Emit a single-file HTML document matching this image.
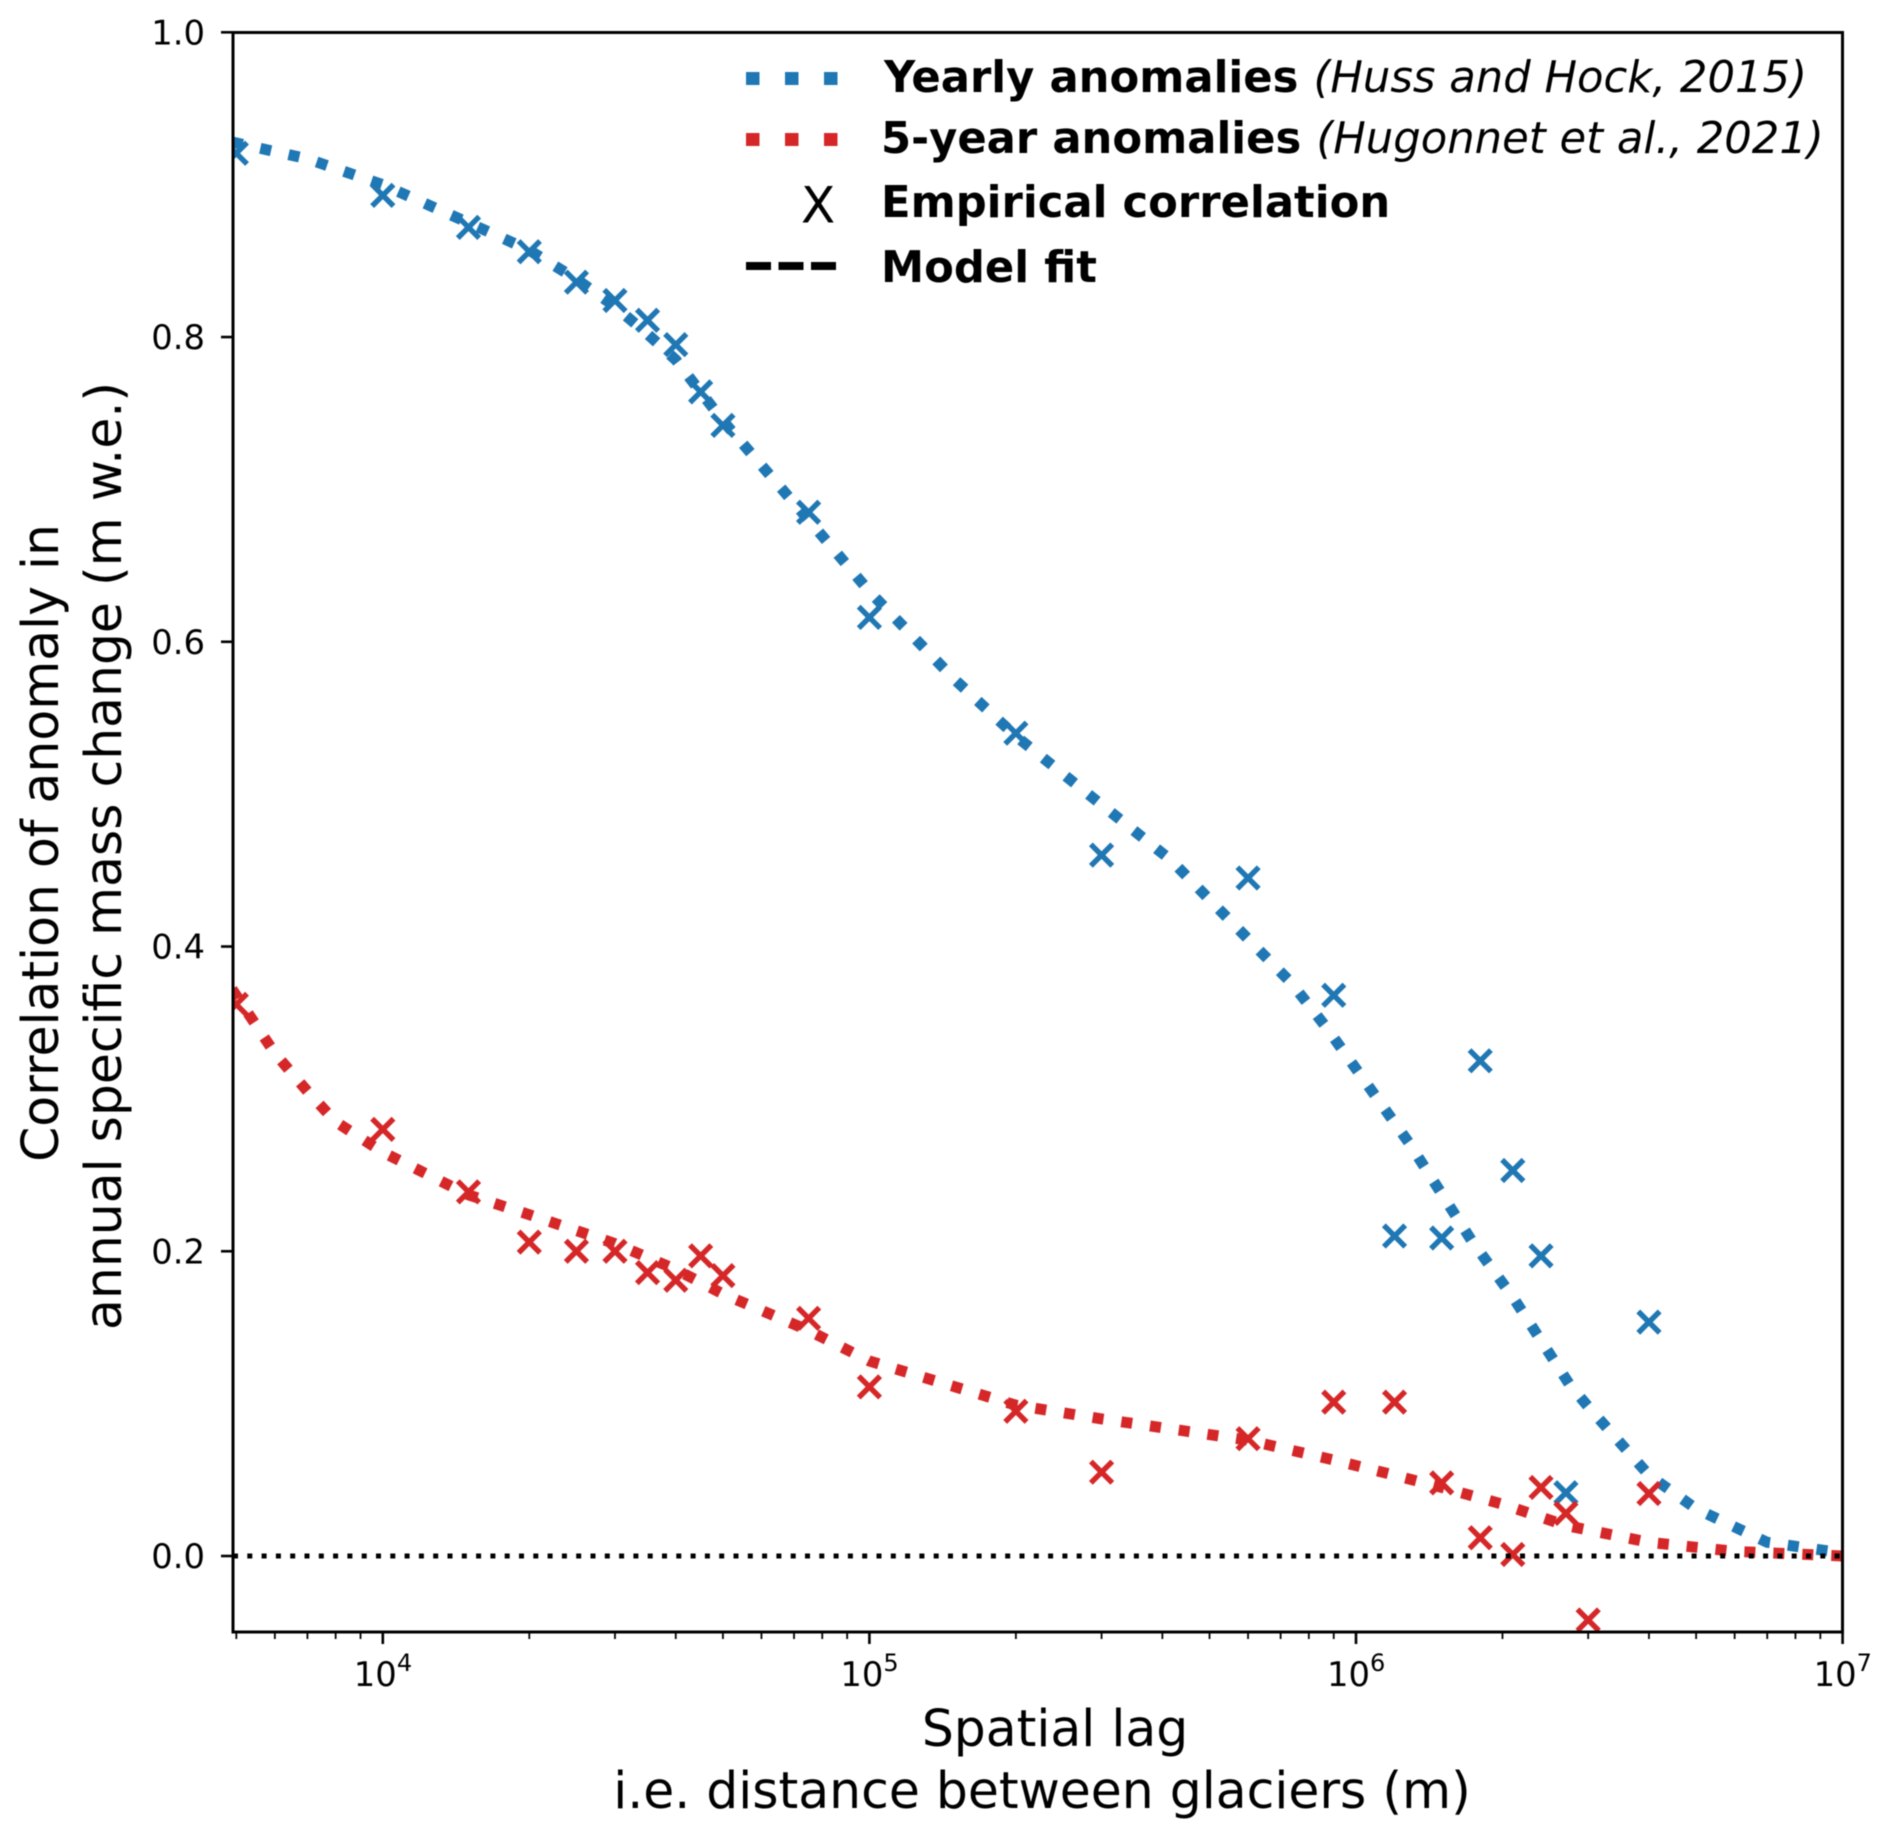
<!DOCTYPE html>
<html>
<head>
<meta charset="utf-8">
<title>Spatial correlation of glacier mass change anomalies</title>
<style>
html,body{margin:0;padding:0;background:#fff;}
svg{display:block;filter:blur(0.5px);}
text{font-family:"DejaVu Sans","Liberation Sans",sans-serif;fill:#000;}
.tick{font-size:33.8px;}
.axis{font-size:50.4px;}
.leg{font-size:43.3px;font-weight:bold;}
.cite{font-weight:normal;font-style:italic;}
</style>
</head>
<body>
<svg id="chart" xmlns="http://www.w3.org/2000/svg" width="1892" height="1838" viewBox="0 0 1892 1838">
  <defs>
    <clipPath id="plot-clip"><rect x="233" y="32" width="1609.5" height="1600"/></clipPath>
  </defs>
  <rect x="0" y="0" width="1892" height="1838" fill="#fff"/>
  <g id="marks" clip-path="url(#plot-clip)"></g>
  <g id="ticks"></g>
  <rect x="233" y="32.5" width="1609.5" height="1599.5" fill="none" stroke="#000" stroke-width="3"/>

  <text class="axis" text-anchor="middle" transform="translate(58,843) rotate(-90)">Correlation of anomaly in</text>
  <text class="axis" text-anchor="middle" transform="translate(121,856) rotate(-90)">annual specific mass change (m w.e.)</text>
  <text class="axis" text-anchor="middle" x="1055" y="1746">Spatial lag</text>
  <text class="axis" text-anchor="middle" x="1042" y="1808">i.e. distance between glaciers (m)</text>

  <g>
    <line x1="746" x2="838" y1="78.5" y2="78.5" stroke="#1f77b4" stroke-width="13" stroke-dasharray="13.5 25.5"/>
    <text class="leg" x="884" y="92">Yearly anomalies <tspan class="cite">(Huss and Hock, 2015)</tspan></text>
    <line x1="746" x2="838" y1="139.5" y2="139.5" stroke="#d62728" stroke-width="13" stroke-dasharray="13.5 25.5"/>
    <text class="leg" x="881" y="153">5-year anomalies <tspan class="cite">(Hugonnet et al., 2021)</tspan></text>
    <text x="801" y="222.5" style="font-size:50px;">X</text>
    <text class="leg" x="881" y="217">Empirical correlation</text>
    <line x1="746" x2="836" y1="266" y2="266" stroke="#000" stroke-width="8" stroke-dasharray="25 7.5"/>
    <text class="leg" x="881" y="282">Model fit</text>
  </g>
</svg>
<script>
// ---- data ----
const blueLags = [5000,10000,15000,20000,25000,30000,35000,40000,45000,50000,75000,100000,200000,300000,600000,900000,1200000,1500000,1800000,2100000,2400000,2700000,4000000];
const blueValues = [0.9206,0.893,0.872,0.856,0.836,0.824,0.811,0.795,0.764,0.742,0.685,0.616,0.54,0.46,0.445,0.368,0.21,0.2087,0.325,0.253,0.197,0.0415,0.1535];
const redLags = [5000,10000,15000,20000,25000,30000,35000,40000,45000,50000,75000,100000,200000,300000,600000,900000,1200000,1500000,1800000,2100000,2400000,2700000,3000000,4000000];
const redValues = [0.362,0.28,0.239,0.206,0.2,0.2,0.186,0.181,0.197,0.184,0.156,0.111,0.095,0.055,0.077,0.101,0.101,0.048,0.012,0.001,0.045,0.028,-0.042,0.041];
const blueFitLags = [4900,7000,10000,15000,20000,25000,30000,35000,40000,50000,75000,100000,150000,200000,300000,417000,600000,737000,871000,1290000,1730000,2100000,2740000,3000000,4000000,5000000,7000000,10000000];
const blueFitValues = [0.928,0.917,0.9,0.875,0.857,0.838,0.82,0.802,0.785,0.745,0.68,0.633,0.575,0.538,0.493,0.4566,0.405,0.376,0.3465,0.2704,0.2068,0.17,0.1131,0.098,0.053,0.031,0.009,0.002];
const redFitLags = [4900,6000,7000,8000,10000,15000,20000,30000,40000,50000,75000,100000,200000,300000,600000,900000,1200000,1500000,2000000,2700000,4000000,6000000,10000000];
const redFitValues = [0.372,0.33,0.305,0.285,0.265,0.237,0.224,0.205,0.188,0.172,0.148,0.128,0.099,0.09,0.076,0.063,0.053,0.045,0.034,0.02,0.009,0.003,0];
const yTickValues = [0,0.2,0.4,0.6,0.8,1];
const yTickLabels = ['0.0','0.2','0.4','0.6','0.8','1.0'];
const xMajorExponents = [4,5,6,7];
const xMinorTicks = [5000,6000,7000,8000,9000,20000,30000,40000,50000,60000,70000,80000,90000,200000,300000,400000,500000,600000,700000,800000,900000,2000000,3000000,4000000,5000000,6000000,7000000,8000000,9000000];

// ---- axis functions ----
const NS = 'http://www.w3.org/2000/svg';
const xAt = v => 382.8 + (Math.log10(v) - 4) * 486.6;
const yAt = v => 1556 - v * 1523.7;
const marks = document.getElementById('marks');
const ticks = document.getElementById('ticks');
function make(tag, parent, attrs) {
  const el = document.createElementNS(NS, tag);
  for (const k in attrs) el.setAttribute(k, attrs[k]);
  parent.appendChild(el);
  return el;
}
function fitPoints(lags, vals) {
  return lags.map((l, i) => xAt(l).toFixed(1) + ',' + yAt(vals[i]).toFixed(1)).join(' ');
}
function drawCross(x, y, color, parent) {
  const r = 10.7;
  return make('path', parent, {
    d: 'M' + (x - r) + ' ' + (y - r) + 'L' + (x + r) + ' ' + (y + r) + 'M' + (x - r) + ' ' + (y + r) + 'L' + (x + r) + ' ' + (y - r),
    stroke: color, 'stroke-width': 5.4, fill: 'none'
  });
}

// ---- series ----
const blueFit = make('polyline', marks, {points: fitPoints(blueFitLags, blueFitValues), fill: 'none', stroke: '#1f77b4', 'stroke-width': 11, 'stroke-dasharray': '11 18'});


blueLags.forEach((l, i) => {
  const c = drawCross(xAt(l), yAt(blueValues[i]), '#1f77b4', marks);
  
  
});
const redFit = make('polyline', marks, {points: fitPoints(redFitLags, redFitValues), fill: 'none', stroke: '#d62728', 'stroke-width': 11, 'stroke-dasharray': '11 18'});


redLags.forEach((l, i) => {
  const c = drawCross(xAt(l), yAt(redValues[i]), '#d62728', marks);
  
  
});
const zeroLine = make('line', marks, {x1: 233, x2: 1842.5, y1: yAt(0), y2: yAt(0), stroke: '#000', 'stroke-width': 5, 'stroke-dasharray': '5 9.3'});



// ---- ticks ----
yTickValues.forEach((v, i) => {
  const t = make('line', ticks, {x1: 221, x2: 233, y1: yAt(v), y2: yAt(v), stroke: '#000', 'stroke-width': 2.6});
  
  
  const lb = make('text', ticks, {x: 205, y: yAt(v) + 12.2, 'text-anchor': 'end', class: 'tick'});
  lb.textContent = yTickLabels[i];
  
  
});
xMajorExponents.forEach(e => {
  const x = xAt(Math.pow(10, e));
  const t = make('line', ticks, {x1: x, x2: x, y1: 1632, y2: 1644, stroke: '#000', 'stroke-width': 2.6});
  
  
  const lb = make('text', ticks, {x: x - 29, y: 1686, class: 'tick'});
  
  
  lb.appendChild(document.createTextNode('10'));
  const sup = make('tspan', lb, {dy: -15, style: 'font-size:24px'});
  sup.textContent = String(e);
});
xMinorTicks.forEach(v => {
  const x = xAt(v);
  const t = make('line', ticks, {x1: x, x2: x, y1: 1632, y2: 1639, stroke: '#000', 'stroke-width': 1.8});
  
  
});
</script>
</body>
</html>
